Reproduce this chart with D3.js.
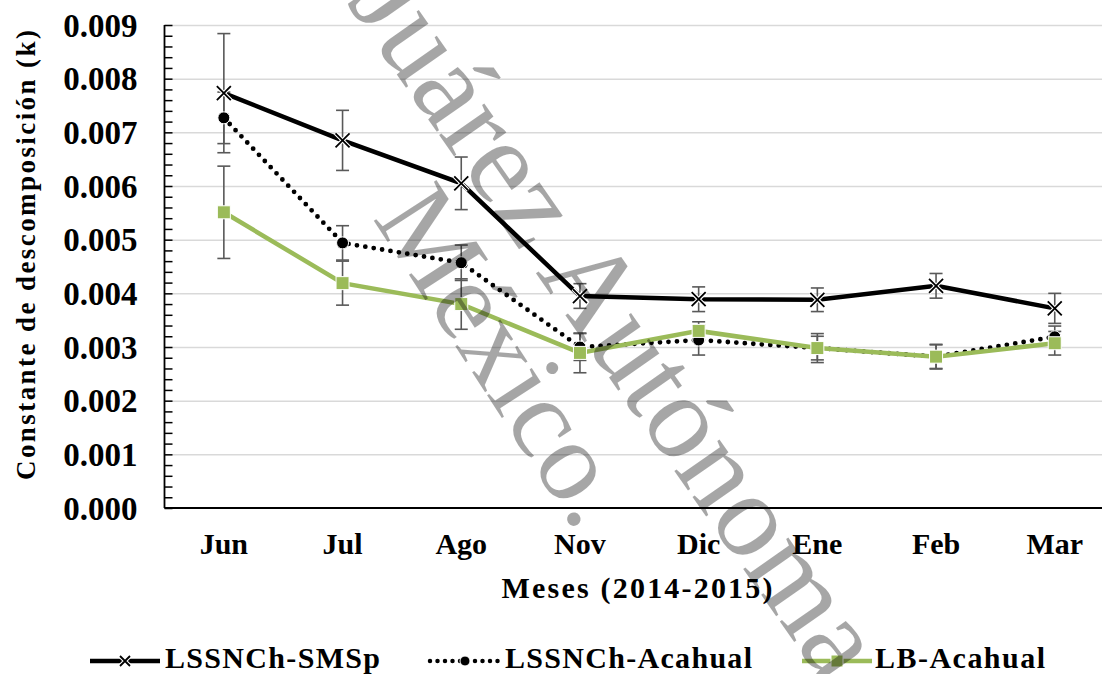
<!DOCTYPE html>
<html>
<head>
<meta charset="utf-8">
<script src="https://cdn.jsdelivr.net/npm/d3@7"></script>
<style>
  html, body { margin: 0; padding: 0; background: #fff; }
  svg { display: block; }
</style>
</head>
<body>
<svg id="chart" width="1102" height="674"></svg>
<script>
// Months of sampling (2014-2015)
const months = ["Jun", "Jul", "Ago", "Nov", "Dic", "Ene", "Feb", "Mar"];

// Decomposition constant k per month, with error bar half-widths
const smspK   = [0.00773, 0.00685, 0.00605, 0.00395, 0.00389, 0.00388, 0.00414, 0.00372];
const smspErr = [0.00111, 0.00056, 0.00049, 0.00023, 0.00023, 0.00022, 0.00023, 0.00028];

const acaK    = [0.00727, 0.00494, 0.00457, 0.00300, 0.00313, 0.00298, 0.00282, 0.00319];
const acaErr  = [0.00048, 0.00032, 0.00033, 0.00025, 0.00028, 0.00027, 0.00023, 0.00020];

const lbK     = [0.00551, 0.00419, 0.00380, 0.00289, 0.00330, 0.00298, 0.00282, 0.00307];
const lbErr   = [0.00086, 0.00041, 0.00047, 0.00037, 0.00017, 0.00022, 0.00022, 0.00022];

const seriesNames = ["LSSNCh-SMSp", "LSSNCh-Acahual", "LB-Acahual"];
const yTicks = [0, 0.001, 0.002, 0.003, 0.004, 0.005, 0.006, 0.007, 0.008, 0.009];

const svg = d3.select("#chart");
const serif = "'Liberation Serif', 'Times New Roman', serif";
const green = "#9bbb59";

const plotLeft = 164.5, plotTop = 25, plotBottom = 508;
const band = 118.7;
const x = d3.scaleBand().domain(months).range([plotLeft, plotLeft + band * months.length]).padding(0);
const y = d3.scaleLinear().domain([0, 0.009]).range([plotBottom, plotTop]);
const cx = m => x(m) + x.bandwidth() / 2;

// horizontal gridlines
svg.append("g")
  .attr("transform", `translate(${plotLeft},0)`)
  .call(d3.axisLeft(y).tickValues(yTicks.slice(1)).tickSize(-(1102 - plotLeft)).tickFormat(""))
  .call(g => g.select(".domain").remove())
  .call(g => g.selectAll("line").attr("stroke", "#d9d9d9").attr("stroke-width", 1.5));

// minor/major ticks pointing inward
const minor = d3.range(0, 46).map(i => i * 0.0002);
svg.append("g")
  .attr("transform", `translate(${plotLeft},0)`)
  .call(d3.axisLeft(y).tickValues(minor).tickSize(-8).tickFormat(""))
  .call(g => g.select(".domain").remove())
  .call(g => g.selectAll("line").attr("stroke", "#000").attr("stroke-width", 1.5));

// y tick labels
svg.append("g")
  .attr("transform", `translate(${plotLeft},0)`)
  .call(d3.axisLeft(y).tickValues(yTicks).tickSize(0).tickPadding(27).tickFormat(d3.format(".3f")))
  .call(g => g.select(".domain").remove())
  .call(g => g.selectAll("text")
    .attr("font-family", serif).attr("font-weight", "bold").attr("font-size", 33)
    .attr("fill", "#000").attr("dy", "0.34em"));

// axis lines
svg.append("line").attr("x1", plotLeft).attr("x2", plotLeft).attr("y1", plotTop).attr("y2", plotBottom)
  .attr("stroke", "#000").attr("stroke-width", 1.8);
svg.append("line").attr("x1", plotLeft).attr("x2", 1102).attr("y1", plotBottom).attr("y2", plotBottom)
  .attr("stroke", "#000").attr("stroke-width", 1.8);

// x tick labels
svg.append("g")
  .attr("transform", `translate(0,${plotBottom})`)
  .call(d3.axisBottom(x).tickSize(0))
  .call(g => g.select(".domain").remove())
  .call(g => g.selectAll("text")
    .attr("font-family", serif).attr("font-weight", "bold").attr("font-size", 30)
    .attr("fill", "#000").attr("y", 46).attr("dy", null));

// axis titles
svg.append("text")
  .attr("transform", `translate(35,255) rotate(-90)`)
  .attr("text-anchor", "middle")
  .attr("font-family", serif).attr("font-weight", "bold").attr("font-size", 27)
  .attr("textLength", 450).attr("lengthAdjust", "spacing")
  .text("Constante de descomposición (k)");

svg.append("text")
  .attr("x", 637).attr("y", 598)
  .attr("text-anchor", "middle")
  .attr("font-family", serif).attr("font-weight", "bold").attr("font-size", 30)
  .attr("textLength", 271).attr("lengthAdjust", "spacing")
  .text("Meses (2014-2015)");

const errColor = "#595959";
function errorBars(vals, errs) {
  const g = svg.append("g").attr("stroke", errColor).attr("stroke-width", 1.6).attr("fill", "none");
  months.forEach((m, i) => {
    const xc = cx(m), y1 = y(vals[i] + errs[i]), y2 = y(vals[i] - errs[i]);
    g.append("line").attr("x1", xc).attr("x2", xc).attr("y1", y1).attr("y2", y2);
    g.append("line").attr("x1", xc - 6.5).attr("x2", xc + 6.5).attr("y1", y1).attr("y2", y1);
    g.append("line").attr("x1", xc - 6.5).attr("x2", xc + 6.5).attr("y1", y2).attr("y2", y2);
  });
}

const line = d3.line().x((d, i) => cx(months[i])).y(d => y(d));

// error bars
errorBars(smspK, smspErr);
errorBars(acaK, acaErr);
errorBars(lbK, lbErr);

// LSSNCh-SMSp: solid black with crosses
svg.append("path").datum(smspK).attr("d", line)
  .attr("fill", "none").attr("stroke", "#000").attr("stroke-width", 4.5);
function cross(g, xc, yc, r) {
  g.append("path").attr("d", `M${xc - r},${yc - r}L${xc + r},${yc + r}M${xc - r},${yc + r}L${xc + r},${yc - r}`)
    .attr("stroke", "#fff").attr("stroke-width", 4);
  g.append("path").attr("d", `M${xc - r},${yc - r}L${xc + r},${yc + r}M${xc - r},${yc + r}L${xc + r},${yc - r}`)
    .attr("stroke", "#000").attr("stroke-width", 1.8);
}
const smspMarks = svg.append("g");
smspK.forEach((v, i) => cross(smspMarks, cx(months[i]), y(v), 7));

// LSSNCh-Acahual: round dotted black with dots
svg.append("path").datum(acaK).attr("d", line)
  .attr("fill", "none").attr("stroke", "#000").attr("stroke-width", 4.8)
  .attr("stroke-linecap", "round").attr("stroke-dasharray", "0,8.5");
svg.append("g").selectAll("circle").data(acaK).join("circle")
  .attr("cx", (d, i) => cx(months[i])).attr("cy", d => y(d)).attr("r", 6)
  .attr("fill", "#000").attr("stroke", "#fff").attr("stroke-width", 1);

// LB-Acahual: green with squares
svg.append("path").datum(lbK).attr("d", line)
  .attr("fill", "none").attr("stroke", green).attr("stroke-width", 4.5);
svg.append("g").selectAll("rect").data(lbK).join("rect")
  .attr("x", (d, i) => cx(months[i]) - 6.5).attr("y", d => y(d) - 6.5)
  .attr("width", 13).attr("height", 13)
  .attr("fill", green).attr("stroke", "#fff").attr("stroke-width", 1);

// legend
const legY = 661;
const leg = svg.append("g");
leg.append("line").attr("x1", 90).attr("x2", 160).attr("y1", legY).attr("y2", legY)
  .attr("stroke", "#000").attr("stroke-width", 4.5);
cross(leg, 125, legY, 5);
leg.append("line").attr("x1", 430).attr("x2", 502).attr("y1", legY).attr("y2", legY)
  .attr("stroke", "#000").attr("stroke-width", 4.5).attr("stroke-linecap", "round").attr("stroke-dasharray", "0,7.5");
leg.append("circle").attr("cx", 465).attr("cy", legY).attr("r", 5).attr("fill", "#000").attr("stroke", "#fff");
leg.append("line").attr("x1", 802).attr("x2", 872).attr("y1", legY).attr("y2", legY)
  .attr("stroke", green).attr("stroke-width", 4.5);
leg.append("rect").attr("x", 831).attr("y", legY - 6).attr("width", 12).attr("height", 12)
  .attr("fill", green).attr("stroke", "#fff");
const legText = [[165, 215], [505, 247], [875, 170]];
seriesNames.forEach((n, i) => {
  leg.append("text").attr("x", legText[i][0]).attr("y", 668)
    .attr("font-family", serif).attr("font-weight", "bold").attr("font-size", 30)
    .attr("textLength", legText[i][1]).attr("lengthAdjust", "spacing")
    .text(n);
});

// watermark overlay
const wm = svg.append("g").attr("fill", "#000").attr("fill-opacity", 0.35)
  .attr("font-family", serif).attr("font-size", 120);
wm.append("text").attr("transform", "translate(346,2) rotate(55)").text("Juárez Autónoma");
wm.append("text").attr("transform", "translate(372,218) rotate(57) scale(0.95)").text("México.");
</script>
</body>
</html>
